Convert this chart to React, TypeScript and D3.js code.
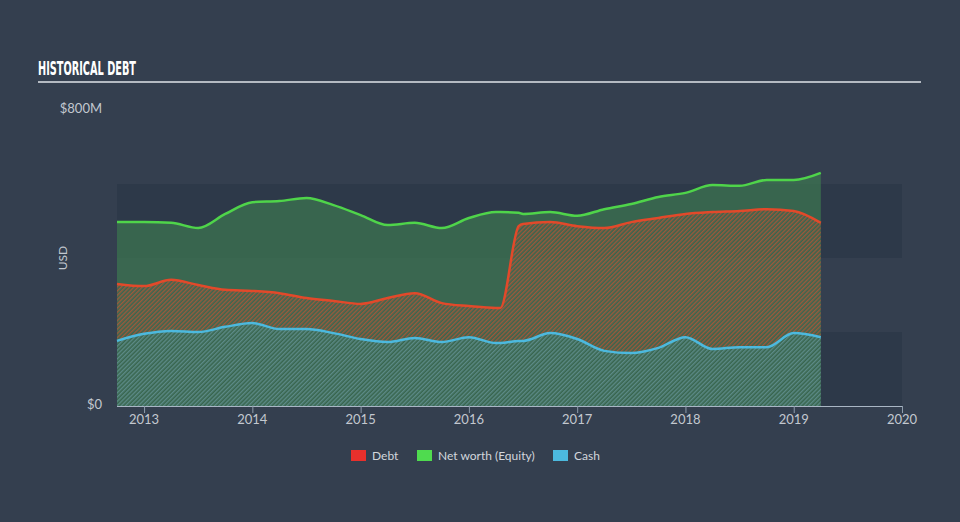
import React from "react";
import * as d3 from "d3";

const dates = [2012.75, 2013.0, 2013.25, 2013.5, 2013.75, 2014.0, 2014.25, 2014.5, 2014.75, 2015.0, 2015.25, 2015.5, 2015.75, 2016.0, 2016.25, 2016.29, 2016.46, 2016.5, 2016.75, 2017.0, 2017.25, 2017.5, 2017.75, 2018.0, 2018.25, 2018.5, 2018.75, 2019.0, 2019.25];
const equity = [497, 497, 495, 481, 519, 551, 554, 562, 543, 516, 489, 495, 481, 508, 524, 524, 522, 519, 524, 514, 532, 546, 565, 576, 597, 595, 611, 611, 630];
const debt = [330, 324, 341, 327, 314, 311, 305, 292, 284, 276, 292, 305, 278, 270, 265, 265, 486, 492, 497, 486, 481, 497, 508, 519, 524, 527, 532, 527, 495];
const cash = [176, 195, 203, 200, 214, 224, 208, 208, 197, 181, 173, 184, 173, 186, 170, 170, 176, 176, 197, 181, 149, 143, 157, 186, 154, 159, 159, 197, 186];
const xTicks = [2013, 2014, 2015, 2016, 2017, 2018, 2019, 2020];
const yTicks = [0, 800];
const bands = [[0, 200], [400, 600]];
const legendItems = [
  { label: "Debt", color: "#e8302c" },
  { label: "Net worth (Equity)", color: "#4fdb4f" },
  { label: "Cash", color: "#4cb9de" },
];

const BG = "#343f4f";
const BAND = "#2d3949";
const FONT = "Lato, 'Open Sans', sans-serif";

export default function App() {
  const W = 960, H = 522;
  const x = d3.scaleLinear().domain([2012.75, 2020]).range([117, 902]);
  const y = d3.scaleLinear().domain([0, 800]).range([406, 110]);
  const idx = dates.map((_, i) => i);

  const line = (arr: number[]) =>
    d3.line<number>().x((i) => x(dates[i])).y((i) => y(arr[i])).curve(d3.curveMonotoneX)(idx) || "";
  const area = (top: number[], bottom: number[] | null) =>
    d3
      .area<number>()
      .x((i) => x(dates[i]))
      .y0((i) => (bottom ? y(bottom[i]) : y(0)))
      .y1((i) => y(top[i]))
      .curve(d3.curveMonotoneX)(idx) || "";

  return (
    <svg width={W} height={H} style={{ position: "absolute", left: 0, top: 0, display: "block" }}>
      <defs>
        <pattern id="hatchDebt" patternUnits="userSpaceOnUse" width="3" height="3" patternTransform="rotate(45)">
          <rect x="0" y="0" width="1.4" height="3" fill="#d9502e" fillOpacity="0.62" />
        </pattern>
        <pattern id="hatchCash" patternUnits="userSpaceOnUse" width="3" height="3" patternTransform="rotate(45)">
          <rect x="0" y="0" width="1.4" height="3" fill="#74a4ad" fillOpacity="0.6" />
        </pattern>
      </defs>
      <rect x={0} y={0} width={W} height={H} fill={BG} />

      {/* title */}
      <text
        x={38}
        y={75}
        fill="#ffffff"
        fontFamily="'DejaVu Sans Condensed', 'DejaVu Sans', sans-serif"
        fontWeight="bold"
        fontSize={19}
        textLength={98}
        lengthAdjust="spacingAndGlyphs"
      >
        HISTORICAL DEBT
      </text>
      <rect x={38} y={81} width={883} height={2} fill="#b4bac2" />

      {/* bands */}
      {bands.map((b, i) => (
        <rect key={i} x={x(2012.75)} y={y(b[1])} width={x(2020) - x(2012.75)} height={y(b[0]) - y(b[1])} fill={BAND} />
      ))}

      {/* areas */}
      <path d={area(equity, null)} fill="#4fdb4f" fillOpacity={0.28} />
      <path d={area(equity, null)} fill="#3a6552" fillOpacity={0.55} />
      <path d={area(debt, cash)} fill="url(#hatchDebt)" />
      <path d={area(cash, null)} fill="url(#hatchCash)" />

      {/* lines */}
      <path d={line(equity)} fill="none" stroke="#4fd44a" strokeWidth={2.5} />
      <path d={line(debt)} fill="none" stroke="#e2492a" strokeWidth={2.5} />
      <path d={line(cash)} fill="none" stroke="#4cb9de" strokeWidth={2.5} />

      {/* y labels */}
      {yTicks.map((t) => (
        <text key={t} x={102} y={y(t) + 3} textAnchor="end" fill="#c3c8cf" fontFamily={FONT} fontSize={13}>
          {t === 0 ? "$0" : `$${t}M`}
        </text>
      ))}
      <text
        transform={`translate(67,258) rotate(-90)`}
        textAnchor="middle"
        fill="#c3c8cf"
        fontFamily={FONT}
        fontSize={12}
      >
        USD
      </text>

      {/* x axis */}
      <line x1={x(2012.75)} x2={x(2020)} y1={406.5} y2={406.5} stroke="#a9b6c4" strokeWidth={1} />
      {xTicks.map((t) => (
        <g key={t}>
          <line x1={x(t) + 0.5} x2={x(t) + 0.5} y1={406} y2={413} stroke="#8d9cac" strokeWidth={1} />
          <text x={x(t)} y={424} textAnchor="middle" fill="#c3c8cf" fontFamily={FONT} fontSize={13}>
            {t}
          </text>
        </g>
      ))}

      {/* legend */}
      {(() => {
        const pos = [351, 417, 553];
        return legendItems.map((it, i) => (
          <g key={it.label}>
            <rect x={pos[i]} y={450} width={15} height={11} fill={it.color} />
            <text x={pos[i] + 21} y={460} fill="#d2d6dc" fontFamily={FONT} fontSize={12}>
              {it.label}
            </text>
          </g>
        ));
      })()}
    </svg>
  );
}
